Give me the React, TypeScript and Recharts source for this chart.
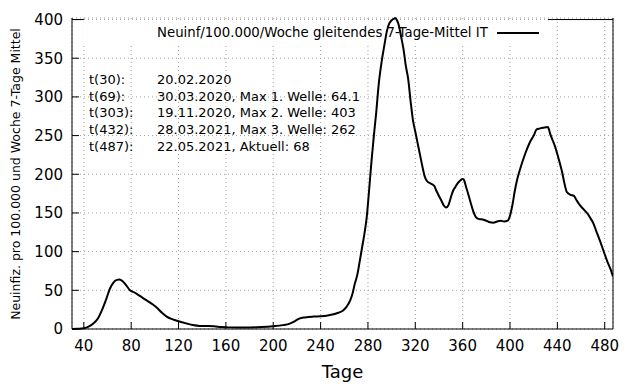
import { LineChart, Line, XAxis, YAxis, CartesianGrid, Legend, ReferenceArea, ReferenceLine } from 'recharts';

const days = [
  30, 35, 40, 44, 48, 52, 56, 59, 62, 65, 68, 70, 73, 76, 79, 83, 86, 90, 94, 98,
  102, 106, 110, 114, 118, 122, 127, 132, 138, 144, 150, 156, 162, 170, 180, 190, 200, 208, 214, 218,
  222, 227, 234, 240, 246, 251, 255, 259, 262, 265, 267, 269, 271, 273, 275, 277, 279, 281, 283, 285,
  287, 289, 291.5, 294, 296, 298, 300, 302, 303, 304.5, 306, 308, 310, 312, 314, 316, 318, 320, 322, 324,
  326, 328, 330, 333, 336, 338, 340, 342, 344, 346, 348, 350, 352, 354, 356, 358, 360, 361, 363, 365,
  367, 369, 371, 374, 377, 380, 383, 386, 389, 392, 395, 398, 400, 402, 404, 406, 408, 410, 412, 415,
  417, 420, 422.5, 425, 428, 432, 434, 436, 438, 440, 442, 444, 446, 448, 451, 454, 456, 459, 462, 466,
  468, 470, 473, 476, 479, 482, 485, 487,
];

const incidence = [
  0, 0.3, 1, 3, 7, 14, 27, 39, 52, 60, 63.5, 64, 61.5, 56, 50, 47, 44, 40, 36, 32,
  27, 21, 16, 13, 11, 9, 7, 5.2, 4, 3.8, 3.5, 2.6, 2.1, 2, 2, 2.5, 3.6, 5, 7, 10,
  13.5, 15, 16, 16.5, 17.5, 19, 21, 24, 29, 37, 46, 59, 70, 87, 105, 123, 145, 180, 217, 250,
  280, 315, 345, 368, 385, 395, 399, 401, 402, 399, 393, 378, 362, 340, 323, 295, 270, 255, 240, 225,
  210, 197, 191, 188, 185, 178, 172, 166, 160, 157, 160, 170, 179, 184, 189, 192, 194, 193, 183, 173,
  162, 152, 145, 142, 141.5, 140, 138, 137.5, 139, 140, 139, 140, 146.6, 160, 178, 193, 204, 214, 223, 235,
  242, 250, 258, 259, 260, 261, 252, 244, 236, 226, 215, 203, 188, 177, 173.5, 172, 167, 160, 155, 148,
  143, 138, 126, 114, 101, 88, 77, 68,
];

const xTicks = [40, 80, 120, 160, 200, 240, 280, 320, 360, 400, 440, 480];
const yTicks = [0, 50, 100, 150, 200, 250, 300, 350, 400];

const notesLeft = ['t(30):', 't(69):', 't(303):', 't(432):', 't(487):'];
const notesRight = [
  '20.02.2020',
  '30.03.2020, Max 1. Welle: 64.1',
  '19.11.2020, Max 2. Welle: 403',
  '28.03.2021, Max 3. Welle: 262',
  '22.05.2021, Aktuell: 68',
];

const seriesName = 'Neuinf/100.000/Woche gleitendes 7-Tage-Mittel IT';
const yTitle = 'Neuinfiz. pro 100.000 und Woche 7-Tage Mittel';

const data = days.map((t, i) => ({ t, v: incidence[i] }));

const font = '"DejaVu Sans", sans-serif';
const tickStyle = { fill: '#000', fontSize: 15, fontFamily: font };

function KeyBox() {
  return (
    <div style={{ display: 'flex', alignItems: 'center', fontFamily: font, fontSize: 13.3, color: '#000' }}>
      <span>{seriesName}</span>
      <svg width={52} height={10}>
        <line x1={9} y1={5} x2={51} y2={5} stroke="#000" strokeWidth={2} />
      </svg>
    </div>
  );
}

export default function App() {
  return (
    <div style={{ position: 'absolute', left: 0, top: 0, width: 640, height: 384, background: '#fff' }}>
      <LineChart width={640} height={384} data={data} margin={{ top: 18, right: 0, bottom: 0, left: 0 }}>
        <CartesianGrid stroke="#a0a0a0" strokeDasharray="1 3" />
        <ReferenceArea x1={39.5} x2={432} y1={369} y2={398.7} fill="#fff" fillOpacity={1} stroke="none" />
        <XAxis
          dataKey="t"
          type="number"
          domain={[30, 487]}
          ticks={xTicks}
          allowDataOverflow
          height={55}
          tickSize={-7}
          tickMargin={18}
          axisLine={{ stroke: '#000' }}
          tickLine={{ stroke: '#000' }}
          tick={tickStyle}
          label={{ value: 'Tage', position: 'insideBottom', offset: 6, style: { fill: '#000', fontSize: 18, fontFamily: font } }}
        />
        <XAxis
          xAxisId="top"
          dataKey="t"
          type="number"
          orientation="top"
          domain={[30, 487]}
          ticks={xTicks}
          allowDataOverflow
          height={0}
          tickSize={-7}
          axisLine={false}
          tickLine={{ stroke: '#000' }}
          tick={false}
        />
        <YAxis
          domain={[0, 400]}
          ticks={yTicks}
          width={72}
          tickSize={-7}
          tickMargin={16}
          axisLine={{ stroke: '#000' }}
          tickLine={{ stroke: '#000' }}
          tick={tickStyle}
          label={{
            content: () => (
              <text
                x={15}
                y={174}
                transform="rotate(-90 15 174)"
                textAnchor="middle"
                dominantBaseline="central"
                fontSize={12.5}
                fontFamily={font}
                fill="#000"
              >
                {yTitle}
              </text>
            ),
          }}
        />
        <YAxis
          yAxisId="right"
          orientation="right"
          domain={[0, 400]}
          ticks={yTicks}
          width={27}
          tickSize={-7}
          axisLine={{ stroke: '#000' }}
          tickLine={{ stroke: '#000' }}
          tick={false}
        />
        <ReferenceLine segment={[{ x: 30, y: 400 }, { x: 40, y: 400 }]} stroke="#000" />
        <ReferenceLine segment={[{ x: 432, y: 400 }, { x: 487, y: 400 }]} stroke="#000" />
        <Legend
          layout="horizontal"
          verticalAlign="middle"
          align="center"
          content={() => <KeyBox />}
          wrapperStyle={{ top: 25, left: 157, width: 'auto' }}
        />
        <Line
          type="monotone"
          dataKey="v"
          stroke="#000"
          strokeWidth={2}
          dot={false}
          isAnimationActive={false}
        />
      </LineChart>
      <div
        style={{
          position: 'absolute',
          left: 89,
          top: 72,
          fontFamily: font,
          fontSize: 13,
          lineHeight: '16.67px',
          color: '#000',
          display: 'flex',
          pointerEvents: 'none',
        }}
      >
        <div style={{ width: 68 }}>
          {notesLeft.map((s) => (
            <div key={s}>{s}</div>
          ))}
        </div>
        <div>
          {notesRight.map((s) => (
            <div key={s}>{s}</div>
          ))}
        </div>
      </div>
    </div>
  );
}
